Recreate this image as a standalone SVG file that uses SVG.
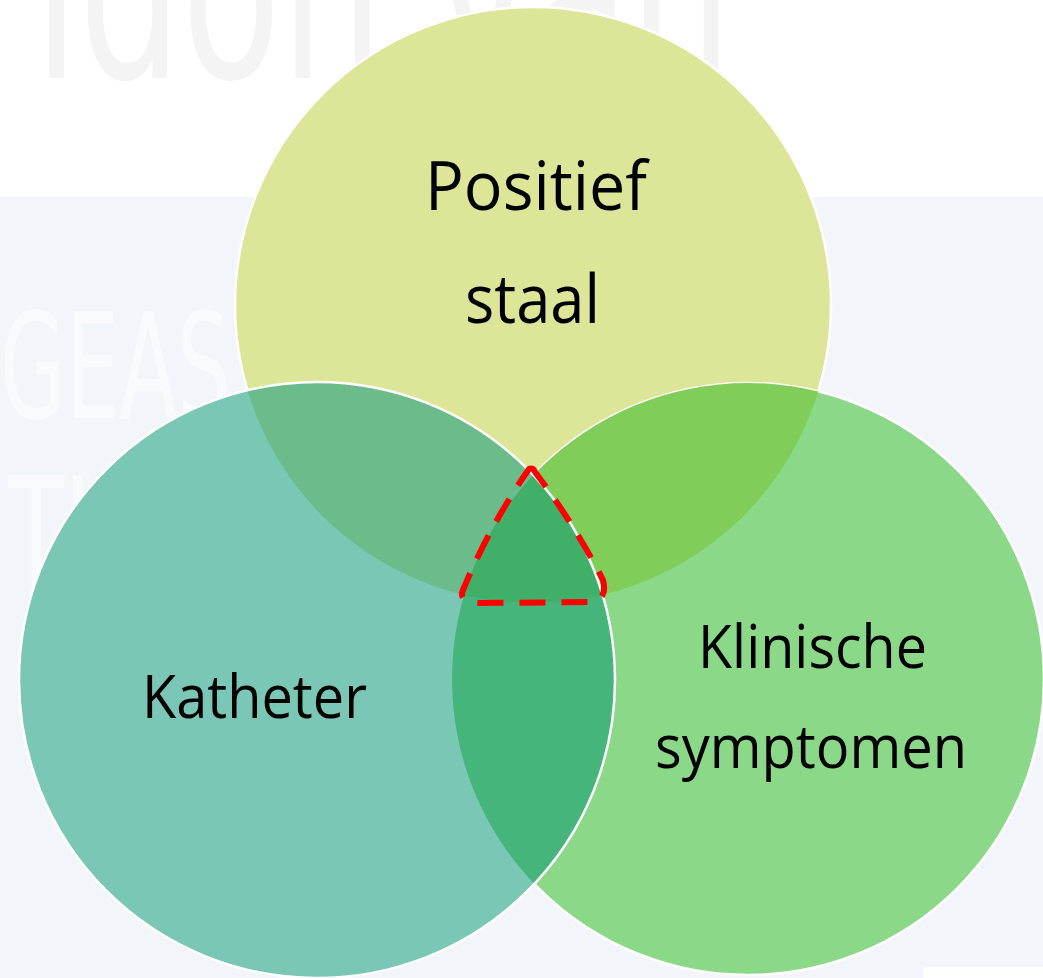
<svg xmlns="http://www.w3.org/2000/svg" width="1043" height="978" viewBox="0 0 1043 978">
  <defs>
    <style>
      .lbl { font-family: "Open Sans", "Liberation Sans", sans-serif; fill: #000; }
      .wm { font-family: "Liberation Sans Narrow", "DejaVu Sans Condensed", "Liberation Sans", sans-serif; }
      .edge { fill: none; stroke: #ffffff; stroke-width: 2.5; }
    </style>
    <circle id="cTop" cx="533" cy="305" r="298"/>
    <circle id="cLeft" cx="317" cy="680" r="298"/>
    <circle id="cRight" cx="748" cy="679" r="296"/>
    <clipPath id="clipLeft"><use href="#cLeft"/></clipPath>
    <clipPath id="clipRight"><use href="#cRight"/></clipPath>
  </defs>

  <!-- background -->
  <rect x="0" y="0" width="1043" height="978" fill="#ffffff"/>
  <rect x="0" y="197" width="1043" height="781" fill="#f2f5fa"/>
  <rect x="923" y="967" width="120" height="11" fill="#ffffff"/>
  <text class="wm" x="34" y="78" font-size="240" fill="#f4f4f4" textLength="698" lengthAdjust="spacingAndGlyphs">idon van</text>
  <text class="wm" x="0" y="418" font-size="146" fill="#f9fafd" textLength="720" lengthAdjust="spacingAndGlyphs">GEASSOCIEERDE</text>
  <text class="wm" x="8" y="590" font-size="156" fill="#f9fafd" textLength="200" lengthAdjust="spacingAndGlyphs">TIES</text>

  <!-- top circle -->
  <g id="node-positief-staal">
    <use href="#cTop" fill="#dde698" stroke="#ffffff" stroke-width="2.5"/>
  </g>

  <!-- right circle -->
  <g id="node-klinische-symptomen">
    <use href="#cRight" fill="#8bd988" stroke="#ffffff" stroke-width="2.5"/>
    <g clip-path="url(#clipRight)">
      <use href="#cTop" fill="#80cd5a"/>
    </g>
  </g>

  <!-- left circle -->
  <g id="node-katheter">
    <use href="#cLeft" fill="#7ac7b6"/>
    <g clip-path="url(#clipLeft)">
      <use href="#cTop" fill="#6cbb8b"/>
      <use href="#cRight" fill="#46b57c"/>
      <g clip-path="url(#clipRight)">
        <use href="#cTop" fill="#40b068"/>
      </g>
    </g>
    <use href="#cLeft" class="edge"/>
  </g>

  <!-- labels -->
  <g id="labels">
    <text class="lbl" x="425" y="210" font-size="68" textLength="222" lengthAdjust="spacingAndGlyphs">Positief</text>
    <text class="lbl" x="465" y="323" font-size="68" textLength="135" lengthAdjust="spacingAndGlyphs">staal</text>
    <text class="lbl" x="142" y="718" font-size="60" textLength="225" lengthAdjust="spacingAndGlyphs">Katheter</text>
    <text class="lbl" x="698" y="668" font-size="60" textLength="229" lengthAdjust="spacingAndGlyphs">Klinische</text>
    <text class="lbl" x="655" y="768" font-size="60" textLength="312" lengthAdjust="spacingAndGlyphs">symptomen</text>
  </g>

  <!-- highlighted intersection -->
  <g id="connectors">
    <path d="M529,469 Q533,467 535,472 Q575,525 603,580 Q608,600 590,602 L478,603 Q458,602 463,590 Q490,525 529,469 Z" fill="none" stroke="#ff0000" stroke-width="6" stroke-dasharray="26 16" stroke-linejoin="round"/>
  </g>
</svg>
